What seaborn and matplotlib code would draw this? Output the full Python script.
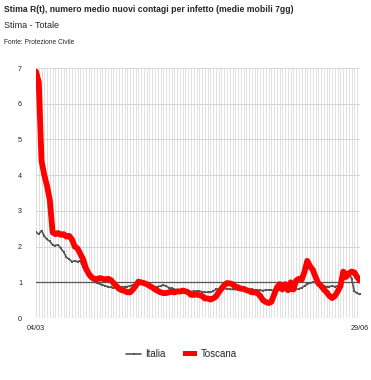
import numpy as np
import pandas as pd
import seaborn as sns
import matplotlib
matplotlib.use("Agg")
import matplotlib.pyplot as plt
from matplotlib.patches import Patch

# R(t) estimates, 7-day moving averages, one value per day from 04/03 to 29/06
start_date = "2020-03-04"
italia = [2.4, 2.35, 2.45, 2.3, 2.2, 2.15, 2.05, 2.03, 2.05, 1.95,
          1.85, 1.7, 1.65, 1.58, 1.6, 1.58, 1.6, 1.42, 1.28, 1.15,
          1.08, 1.02, 0.98, 0.96, 0.93, 0.9, 0.88, 0.86, 0.85, 0.84,
          0.85, 0.87, 0.88, 0.88, 0.9, 0.93, 0.95, 0.97, 0.96, 0.93,
          0.9, 0.88, 0.88, 0.87, 0.88, 0.9, 0.92, 0.9, 0.85, 0.83,
          0.8, 0.78, 0.78, 0.76, 0.75, 0.74, 0.74, 0.75, 0.76, 0.75,
          0.74, 0.72, 0.72, 0.72, 0.75, 0.8, 0.82, 0.84, 0.83, 0.82,
          0.81, 0.8, 0.8, 0.79, 0.8, 0.79, 0.78, 0.79, 0.8, 0.79,
          0.78, 0.78, 0.77, 0.78, 0.79, 0.78, 0.77, 0.76, 0.78, 0.8,
          0.8, 0.8, 0.75, 0.78, 0.8, 0.82, 0.85, 0.9, 0.95, 0.98,
          1.0, 1.0, 1.0, 0.95, 0.9, 0.88, 0.88, 0.9, 0.88, 0.9,
          0.95, 1.28, 1.3, 1.3, 1.1, 0.75, 0.7, 0.66]
toscana = [6.9, 6.6, 4.4, 4.0, 3.7, 3.3, 2.4, 2.35, 2.38, 2.33,
           2.35, 2.28, 2.3, 2.2, 2.0, 1.95, 1.8, 1.65, 1.4, 1.25,
           1.15, 1.1, 1.08, 1.12, 1.1, 1.08, 1.1, 1.07, 0.98, 0.9,
           0.82, 0.78, 0.76, 0.72, 0.72, 0.8, 0.9, 1.02, 1.0, 0.98,
           0.95, 0.9, 0.86, 0.8, 0.76, 0.72, 0.7, 0.7, 0.72, 0.74,
           0.72, 0.75, 0.74, 0.77, 0.75, 0.72, 0.65, 0.65, 0.66, 0.64,
           0.62, 0.55, 0.55, 0.52, 0.55, 0.6, 0.72, 0.82, 0.92, 0.98,
           0.97, 0.95, 0.88, 0.86, 0.82, 0.82, 0.78, 0.76, 0.72, 0.72,
           0.7, 0.62, 0.5, 0.45, 0.42, 0.45, 0.65, 0.85, 0.95, 0.8,
           0.95, 0.78, 1.0, 0.8, 1.05, 1.1, 1.08, 1.3, 1.6, 1.45,
           1.35, 1.15, 0.97, 0.9, 0.8, 0.72, 0.62, 0.56, 0.62, 0.75,
           0.9, 1.3, 1.15, 1.25, 1.3, 1.28, 1.15, 1.05]
y_ticks = [0, 1, 2, 3, 4, 5, 6, 7]

dates = pd.date_range(start_date, periods=len(italia), freq="D")
df = pd.DataFrame({"data": dates, "Italia": italia, "Toscana": toscana})

sns.set_style("white")
plt.rcParams["font.family"] = ["Liberation Sans", "DejaVu Sans"]

fig = plt.figure(figsize=(3.71, 3.80), dpi=100)
ax = fig.add_axes([0.097, 0.163, 0.873, 0.658])

# daily vertical grid
for d in dates:
    ax.axvline(d, color="#dcdcdc", lw=0.6, zorder=0)
for t in y_ticks:
    ax.axhline(t, color="#d0d0d0", lw=0.6, zorder=0)
ax.axhline(1, color="#555555", lw=0.9, zorder=1)

sns.lineplot(data=df, x="data", y="Italia", ax=ax, color="#555555", lw=1.2,
             marker="s", markersize=1.8, markeredgewidth=0, label="Italia", zorder=3)
sns.lineplot(data=df, x="data", y="Toscana", ax=ax, color="#ff0000", lw=4.2,
             label="Toscana", zorder=4)

ax.set_xlim(dates[0], dates[-1])
ax.set_ylim(0, 7)
ax.set_yticks(y_ticks)
ax.set_yticklabels([str(t) for t in y_ticks])
ax.set_xticks([dates[0], dates[-1]])
ax.set_xticklabels(["04/03", "29/06"])
ax.tick_params(axis="both", length=0, labelsize=5.2, colors="#222222")
ax.tick_params(axis="y", pad=10)
ax.tick_params(axis="x", pad=5)
ax.set_xlabel("")
ax.set_ylabel("")
for s in ax.spines.values():
    s.set_visible(False)

ax.get_legend().remove()
h, l = ax.get_legend_handles_labels()
h[1] = Patch(facecolor="#ff0000", edgecolor="none")
fig.legend(h, l, loc="center", bbox_to_anchor=(0.49, 0.068), ncol=2, frameon=False,
           fontsize=7, handlelength=1.5, handleheight=0.5, columnspacing=1.8,
           handletextpad=0.4)

fig.text(0.011, 0.976, "Stima R(t), numero medio nuovi contagi per infetto (medie mobili 7gg)",
         fontsize=6.2, fontweight="bold", va="center", ha="left")
fig.text(0.011, 0.932, "Stima - Totale", fontsize=6.5, va="center", ha="left")
fig.text(0.011, 0.887, "Fonte: Protezione Civile", fontsize=4.8, va="center", ha="left")

fig.savefig("out.png", dpi=100)
